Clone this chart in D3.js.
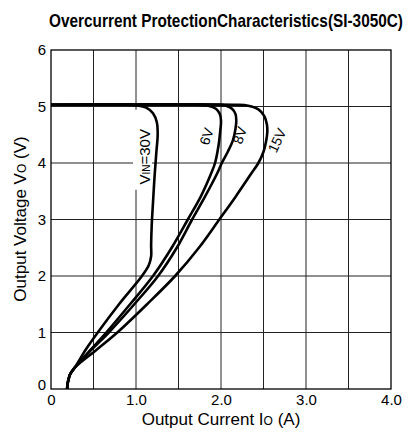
<!DOCTYPE html>
<html><head><meta charset="utf-8">
<script src="https://cdn.jsdelivr.net/npm/d3@7"></script>
<style>body{margin:0;background:#fff}svg{display:block}text{font-family:"Liberation Sans",Arial,sans-serif}</style>
</head><body>
<svg id="c" width="412" height="432"></svg>
<script>
// Data: [current A, voltage V]
const curve30V = [[0,5.03],[0.9,5.03],[1.02,5.02],[1.12,4.98],[1.2,4.88],[1.245,4.72],[1.255,4.5],[1.24,4.2],[1.22,3.8],[1.2,3.3],[1.185,2.9],[1.178,2.55],[1.178,2.35],[1.15,2.19],[1.07,2.0],[0.8,1.5],[0.55,1.0],[0.41,0.7],[0.28,0.38],[0.225,0.26],[0.203,0.15],[0.193,0.07],[0.19,0]];
const curve6V = [[0,5.03],[1.7,5.03],[1.85,5.015],[1.94,4.96],[1.985,4.87],[2.0,4.75],[1.99,4.55],[1.97,4.3],[1.93,4.0],[1.88,3.8],[1.76,3.4],[1.61,3.0],[1.42,2.5],[1.2,2.0],[0.93,1.5],[0.65,1.0],[0.47,0.7],[0.28,0.38],[0.225,0.26],[0.203,0.15],[0.193,0.07],[0.19,0]];
const curve8V = [[0,5.03],[1.95,5.03],[2.06,5.015],[2.13,4.96],[2.17,4.87],[2.18,4.75],[2.17,4.6],[2.14,4.4],[2.08,4.2],[2.01,4.0],[1.95,3.8],[1.81,3.4],[1.66,3.0],[1.48,2.5],[1.26,2.0],[0.98,1.5],[0.68,1.0],[0.48,0.7],[0.28,0.38],[0.225,0.26],[0.203,0.15],[0.193,0.07],[0.19,0]];
const curve15V = [[0,5.03],[2.15,5.03],[2.32,5.015],[2.44,4.95],[2.51,4.83],[2.54,4.68],[2.545,4.55],[2.53,4.38],[2.5,4.2],[2.44,4.0],[2.35,3.8],[2.17,3.4],[1.98,3.0],[1.74,2.5],[1.46,2.0],[1.13,1.5],[0.78,1.0],[0.54,0.7],[0.28,0.38],[0.225,0.26],[0.203,0.15],[0.193,0.07],[0.19,0]];
const xTicks = [0,1,2,3,4];
const xTickLabels = ["0","1.0","2.0","3.0","4.0"];
const yTicks = [0,1,2,3,4,5,6];
const xGrid = [0.5,1,1.5,2,2.5,3,3.5];
const yGrid = [1,2,3,4,5];
const labels = [
  {t:"6V", x:1.83, y:4.47, r:-72},
  {t:"8V", x:2.22, y:4.49, r:-72},
  {t:"15V", x:2.66, y:4.4, r:-65}
];
const vinLabel = {x:1.106, y:4.11};

const svg = d3.select("#c");
const x = d3.scaleLinear().domain([0,4]).range([51,391]);
const y = d3.scaleLinear().domain([0,6]).range([389,50]);

// grid
svg.append("g").selectAll("line").data(xGrid).join("line")
  .attr("x1",d=>x(d)).attr("x2",d=>x(d)).attr("y1",y(0)).attr("y2",y(6))
  .attr("stroke","#222").attr("stroke-width",1);
svg.append("g").selectAll("line").data(yGrid).join("line")
  .attr("x1",x(0)).attr("x2",x(4)).attr("y1",d=>y(d)).attr("y2",d=>y(d))
  .attr("stroke","#222").attr("stroke-width",1);

// white background behind VIN label
svg.append("rect").attr("x",x(vinLabel.x)-12).attr("y",y(vinLabel.y)-47)
  .attr("width",19).attr("height",80).attr("fill","#fff");

// frame
svg.append("rect").attr("x",x(0)).attr("y",y(6)).attr("width",x(4)-x(0)).attr("height",y(0)-y(6))
  .attr("fill","none").attr("stroke","#000").attr("stroke-width",1.3);

// curves
const line = d3.line().x(d=>x(d[0])).y(d=>y(d[1])).curve(d3.curveCatmullRom.alpha(0.5));
[curve30V,curve6V,curve8V,curve15V].forEach(c=>{
  svg.append("path").attr("d",line(c)).attr("fill","none").attr("stroke","#000")
    .attr("stroke-width",2.6).attr("stroke-linejoin","round");
});

// axes
const ax = svg.append("g").attr("transform",`translate(0,${y(0)})`)
  .call(d3.axisBottom(x).tickValues(xTicks).tickSize(0).tickPadding(5).tickFormat((d,i)=>xTickLabels[i]));
ax.select(".domain").remove();
ax.selectAll("text").attr("font-size",15).attr("fill","#000").attr("font-family","Liberation Sans, Arial, sans-serif");
const ay = svg.append("g").attr("transform",`translate(${x(0)},0)`)
  .call(d3.axisLeft(y).tickValues(yTicks).tickSize(0).tickPadding(5).tickFormat(d3.format("d")));
ay.select(".domain").remove();
ay.selectAll("text").attr("font-size",15).attr("fill","#000").attr("font-family","Liberation Sans, Arial, sans-serif");
ay.selectAll(".tick").filter(d=>d===0).select("text").attr("dy","0.05em");

// title (horizontally condensed to fit)
const title = svg.append("text").attr("text-anchor","middle")
  .attr("font-family","Liberation Sans Narrow, Arial Narrow, Liberation Sans, sans-serif")
  .attr("font-weight","bold").attr("font-size",18)
  .text("Overcurrent ProtectionCharacteristics(SI-3050C)");
const tl = title.node().getComputedTextLength();
title.attr("transform",`translate(226,27) scale(${354/tl},1)`);

// axis titles
const xt = svg.append("text").attr("x",221).attr("y",425).attr("text-anchor","middle").attr("font-size",17);
xt.append("tspan").text("Output Current I");
xt.append("tspan").attr("font-size",12).text("O");
xt.append("tspan").text(" (A)");
const yt = svg.append("text").attr("transform","translate(26,219) rotate(-90)").attr("text-anchor","middle").attr("font-size",17);
yt.append("tspan").text("Output Voltage V");
yt.append("tspan").attr("font-size",12).text("O");
yt.append("tspan").text(" (V)");

// curve labels
const vt = svg.append("text").attr("transform",`translate(${x(vinLabel.x)+5},${y(vinLabel.y)}) rotate(-90)`)
  .attr("text-anchor","middle").attr("font-size",15);
vt.append("tspan").text("V");
vt.append("tspan").attr("font-size",10).text("IN");
vt.append("tspan").text("=30V");
labels.forEach(l=>{
  svg.append("text").attr("transform",`translate(${x(l.x)},${y(l.y)}) rotate(${l.r})`)
    .attr("text-anchor","middle").attr("dy","0.35em").attr("font-size",14).text(l.t);
});
</script>
</body></html>
